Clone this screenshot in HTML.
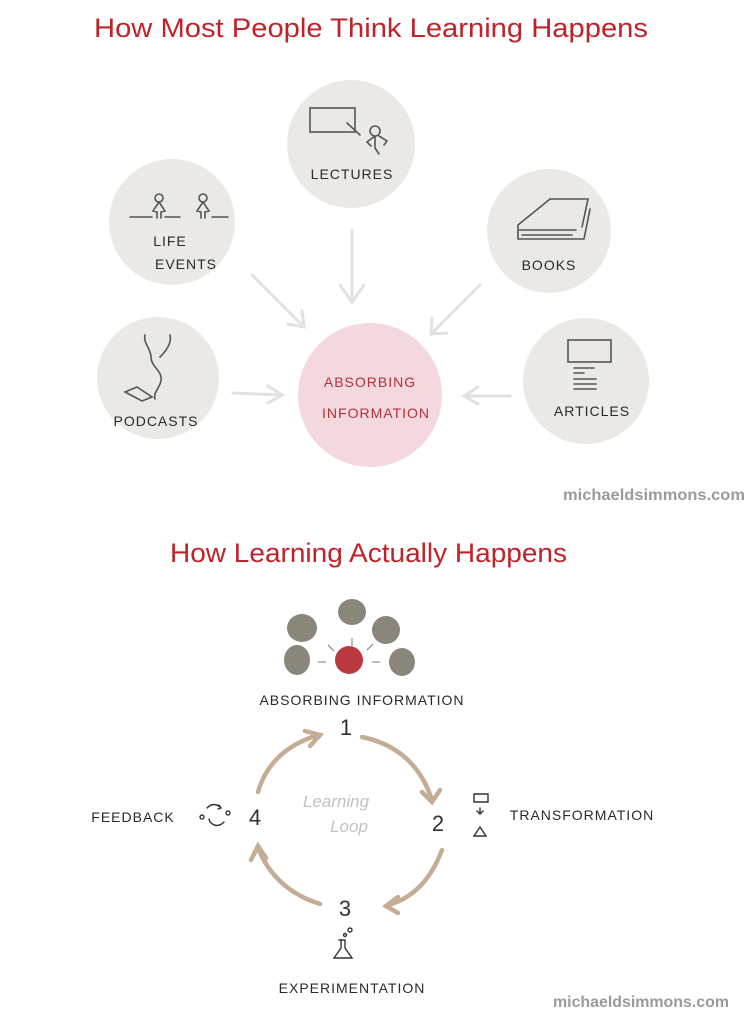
<!DOCTYPE html>
<html><head><meta charset="utf-8"><style>
html,body{margin:0;padding:0;background:#fff;}
svg{display:block;}
.t{font-family:"Liberation Sans",sans-serif;fill:#c0222a;font-size:27px;}
.h{font-family:"Liberation Sans",sans-serif;fill:#2a2a2a;font-size:14px;letter-spacing:1px;}
.w{font-family:"Liberation Sans",sans-serif;fill:#9a9a9a;font-size:16px;font-weight:bold;}
.n{font-family:"Liberation Sans",sans-serif;fill:#333;font-size:22px;}
</style></head><body>
<svg width="753" height="1024" viewBox="0 0 753 1024" xmlns="http://www.w3.org/2000/svg">
<rect width="753" height="1024" fill="#fff"/>
<text class="t" x="94" y="37" textLength="554" lengthAdjust="spacingAndGlyphs">How Most People Think Learning Happens</text>

<g fill="#ebe9e6">
<circle cx="351" cy="144" r="64"/>
<circle cx="172" cy="222" r="63"/>
<circle cx="549" cy="231" r="62"/>
<circle cx="158" cy="378" r="61"/>
<circle cx="586" cy="381" r="63"/>
</g>
<circle cx="370" cy="395" r="72" fill="#f3d9dd"/>

<g stroke="#e1e1e1" stroke-width="3" fill="none" stroke-linecap="round">
<path d="M352 230 L352 300 M340 285 L352 302 L364 285"/>
<path d="M252 275 L303 326 M288 324 L304 327 L302 311"/>
<path d="M480 285 L432 333 M432 318 L431 334 L447 333"/>
<path d="M233 393 L281 395 M268 386 L282 395 L268 403"/>
<path d="M510 396 L465 396 M478 387 L464 396 L478 404"/>
</g>

<!-- icons -->
<g stroke="#555" stroke-width="1.6" fill="none" stroke-linecap="round">
<rect x="310" y="108" width="45" height="24"/>
<path d="M347 123 L360 135 M375 126 a5 5 0 1 0 .1 0 M375 136 l-8 6 4 4 M375 136 v12 l4 6 M379 136 l8 5 -3 4"/>
<circle cx="159" cy="198" r="4"/><circle cx="203" cy="198" r="4"/>
<path d="M130 217 h22 M165 217 h15 M212 217 h16 M159 202 l-6 9 4 1 v6 M159 202 l6 9 -4 1 v6 M203 202 l-6 9 4 1 v6 M203 202 l6 9 -4 1 v6"/>
<path d="M518 225 l32 -26 h38 l-6 28 M518 225 v14 h66 M518 230 h58 M522 235 h50 M584 239 l6 -30"/>
<path d="M145 335 c-2 8 6 14 6 22 c0 10 12 14 10 24 c-2 8 -8 12 -6 18 M170 335 c2 8 -4 16 -10 22 M125 392 l12 -5 15 10 -10 4 z"/>
<rect x="568" y="340" width="43" height="22"/>
<path d="M574 368 h20 M574 373 h10 M574 379 h22 M574 384 h22 M574 389 h22"/>
</g>

<g class="h" text-anchor="middle" font-size="15">
<text x="352" y="179">LECTURES</text>
<text x="170" y="246">LIFE</text>
<text x="186" y="269">EVENTS</text>
<text x="549" y="270">BOOKS</text>
<text x="156" y="426">PODCASTS</text>
<text x="592" y="416">ARTICLES</text>
</g>
<g class="h" text-anchor="middle" font-size="15" style="fill:#b4303e">
<text x="370" y="387">ABSORBING</text>
<text x="376" y="418">INFORMATION</text>
</g>

<text class="w" x="563" y="500" textLength="182" lengthAdjust="spacingAndGlyphs">michaeldsimmons.com</text>
<text class="t" x="170" y="562" textLength="397" lengthAdjust="spacingAndGlyphs">How Learning Actually Happens</text>

<g fill="#8b867a">
<ellipse cx="302" cy="628" rx="15" ry="14"/>
<ellipse cx="352" cy="612" rx="14" ry="13"/>
<ellipse cx="386" cy="630" rx="14" ry="14"/>
<ellipse cx="297" cy="660" rx="13" ry="15"/>
<ellipse cx="402" cy="662" rx="13" ry="14"/>
</g>
<circle cx="349" cy="660" r="14" fill="#b83a40"/>
<g stroke="#777" stroke-width="1" fill="none">
<path d="M328 645 l6 6 M352 638 v8 M373 644 l-6 6 M318 662 h8 M380 662 h-8"/>
</g>

<text class="h" x="362" y="705" text-anchor="middle" font-size="13">ABSORBING INFORMATION</text>

<g stroke="#c4ad95" stroke-width="4.5" fill="none" stroke-linecap="round">
<path d="M362 737 Q415 748 432 800"/>
<path d="M422 792 L432 802 L440 790"/>
<path d="M442 850 Q425 895 388 905"/>
<path d="M398 897 L386 906 L398 913"/>
<path d="M320 904 Q275 890 258 848"/>
<path d="M251 860 L258 846 L266 858"/>
<path d="M258 792 Q270 750 318 735"/>
<path d="M305 731 L320 735 L310 746"/>
</g>

<text class="n" x="346" y="735" text-anchor="middle">1</text>
<text class="n" x="438" y="831" text-anchor="middle">2</text>
<text class="n" x="345" y="916" text-anchor="middle">3</text>
<text class="n" x="255" y="825" text-anchor="middle">4</text>
<g font-family="Liberation Sans,sans-serif" font-style="italic" font-size="17" fill="#c2c2c2" text-anchor="middle">
<text x="336" y="807">Learning</text>
<text x="349" y="832">Loop</text>
</g>

<g stroke="#333" stroke-width="1.4" fill="none" stroke-linecap="round">
<path d="M474 794 h14 v8 h-14 z M480 808 v6 M477 811 l3 3 3 -3 M474 836 l6 -9 6 9 z"/>
<circle cx="202" cy="817" r="2"/><circle cx="228" cy="813" r="2"/>
<path d="M207 808 q7 -7 14 0 M219 805 l2 3 -3 1 M210 822 q7 7 14 0 M210 822 l-1 -3"/>
<path d="M341 940 v8 l-7 10 h18 l-7 -10 v-8 M339 940 h6"/>
<circle cx="345" cy="935" r="1.5"/><circle cx="350" cy="930" r="2"/>
</g>

<g class="h" font-size="13" text-anchor="middle">
<text x="133" y="822">FEEDBACK</text>
<text x="582" y="820">TRANSFORMATION</text>
<text x="352" y="993">EXPERIMENTATION</text>
</g>

<text class="w" x="553" y="1007" textLength="176" lengthAdjust="spacingAndGlyphs">michaeldsimmons.com</text>
</svg>
</body></html>
